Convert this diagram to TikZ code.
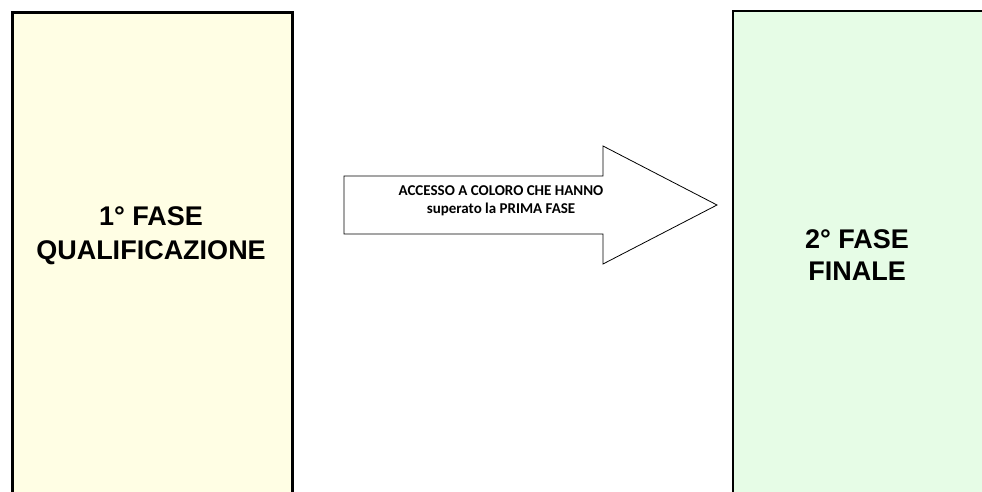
\documentclass[tikz,border=0pt]{standalone}
\usepackage{fontspec}
\usetikzlibrary{calc, positioning}
\newfontfamily\arialfont{Liberation Sans}
\newfontfamily\calibrifont{Carlito}
\definecolor{qualifill}{RGB}{255,254,228}
\definecolor{finalefill}{RGB}{230,252,230}

\begin{document}
\begin{tikzpicture}[x=1pt,y=-1pt, every node/.style={inner sep=0pt, align=center}]
    \useasboundingbox (0,0) rectangle (982,492);
    \clip (0,0) rectangle (982,492);
    \node[draw, line width=3pt, fill=qualifill, minimum width=280pt, minimum height=500pt, anchor=north west] (quali) at (10.5,11.5) {};
    \node[draw, line width=1.5pt, fill=finalefill, minimum width=270pt, minimum height=500pt, anchor=north west] (finale) at (732,10.5) {};
    \node[font=\arialfont\bfseries\fontsize{27}{34}\selectfont] (qualitext) at (151,236) {1° FASE\\QUALIFICAZIONE};
    \node[font=\arialfont\bfseries\fontsize{27}{32}\selectfont] (finaletext) at (857,255) {2° FASE\\FINALE};
    \draw[line width=0.8pt, fill=white] (344,176) -- (603,176) -- (603,146) -- (717,205) -- (603,264) -- (603,234) -- (344,234) -- cycle;
    \node[font=\calibrifont\bfseries\fontsize{15}{18}\selectfont] (passtext) at (501,201) {ACCESSO A COLORO CHE HANNO\\superato la PRIMA FASE};
\end{tikzpicture}
\end{document}
